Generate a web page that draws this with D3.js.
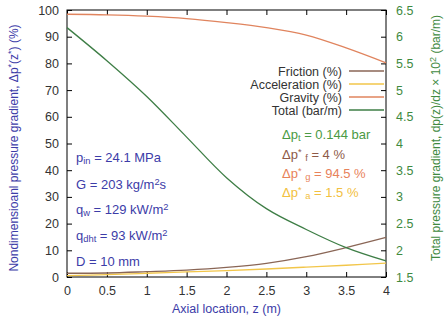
<!DOCTYPE html>
<html>
<head>
<meta charset="utf-8">
<script src="https://cdn.jsdelivr.net/npm/d3@7"></script>
<style>
  body { margin: 0; background: #fff; }
  svg { font-family: "Liberation Sans", Arial, sans-serif; }
</style>
</head>
<body>
<div id="chart"></div>
<script>
// axial positions (m)
const zVals = [0, 0.5, 1, 1.5, 2, 2.5, 3, 3.5, 4];
// nondimensional components (%)
const friction = [1.4, 1.5, 2.0, 2.6, 3.6, 5.1, 7.6, 11.0, 14.8];
const acceleration = [0.5, 0.9, 1.4, 1.9, 2.4, 3.0, 3.7, 4.4, 5.2];
const gravity = [98.4, 98.2, 97.7, 96.8, 95.3, 93.4, 90.6, 85.8, 80.2];
// total gradient (right axis)
const total = [6.17, 5.55, 4.88, 4.12, 3.36, 2.78, 2.39, 2.05, 1.80];

const xTicks = [0, 0.5, 1, 1.5, 2, 2.5, 3, 3.5, 4];
const leftTicks = [0, 10, 20, 30, 40, 50, 60, 70, 80, 90, 100];
const rightTicks = [1.5, 2, 2.5, 3, 3.5, 4, 4.5, 5, 5.5, 6, 6.5];

const W = 445, H = 323;
const m = { left: 67, right: 386, top: 10, bottom: 277 };

const blue = "#3c3ca8", green = "#3f8a3f", grey = "#333";
const cFric = "#8a6656", cAcc = "#f2c64a", cGrav = "#e0845e", cTot = "#3e7e46";

const svg = d3.select("#chart").append("svg")
  .attr("width", W).attr("height", H);

const x = d3.scaleLinear().domain([0, 4]).range([m.left, m.right]);
const yL = d3.scaleLinear().domain([0, 100]).range([m.bottom, m.top]);
const yR = d3.scaleLinear().domain([1.5, 6.5]).range([m.bottom, m.top]);

// axes (gnuplot-like: ticks pointing inward)
const tk = 5;
svg.append("g").attr("transform", "translate(0," + m.bottom + ")")
  .call(d3.axisBottom(x).tickValues(xTicks).tickSize(-tk).tickPadding(9)
    .tickFormat(d3.format("")))
  .call(g => g.select(".domain").remove())
  .selectAll("text").attr("font-size", 12.5).attr("fill", grey);
svg.append("g").attr("transform", "translate(0," + m.top + ")")
  .call(d3.axisTop(x).tickValues(xTicks).tickSize(-tk).tickFormat(""))
  .call(g => g.select(".domain").remove());
svg.append("g").attr("transform", "translate(" + m.left + ",0)")
  .call(d3.axisLeft(yL).tickValues(leftTicks).tickSize(-tk).tickPadding(8))
  .call(g => g.select(".domain").remove())
  .selectAll("text").attr("font-size", 12.5).attr("fill", grey);
svg.append("g").attr("transform", "translate(" + m.right + ",0)")
  .call(d3.axisRight(yR).tickValues(rightTicks).tickSize(-tk).tickPadding(10)
    .tickFormat(d3.format("")))
  .call(g => g.select(".domain").remove())
  .selectAll("text").attr("font-size", 12.5).attr("fill", green);
svg.selectAll(".tick line").attr("stroke", "#000");

svg.append("rect")
  .attr("x", m.left).attr("y", m.top)
  .attr("width", m.right - m.left).attr("height", m.bottom - m.top)
  .attr("fill", "none").attr("stroke", "#000").attr("stroke-width", 1);

// curves
const lineL = d3.line().x((d, i) => x(zVals[i])).y(d => yL(d)).curve(d3.curveCatmullRom.alpha(0.5));
const lineR = d3.line().x((d, i) => x(zVals[i])).y(d => yR(d)).curve(d3.curveCatmullRom.alpha(0.5));

const series = [
  { name: "Friction (%)", vals: friction, color: cFric, line: lineL },
  { name: "Acceleration (%)", vals: acceleration, color: cAcc, line: lineL },
  { name: "Gravity (%)", vals: gravity, color: cGrav, line: lineL },
  { name: "Total (bar/m)", vals: total, color: cTot, line: lineR }
];

series.forEach(s => {
  svg.append("path").attr("d", s.line(s.vals))
    .attr("fill", "none").attr("stroke", s.color).attr("stroke-width", 1.3);
});

// legend
const leg = svg.append("g");
series.forEach((s, i) => {
  const yy = 71 + i * 13;
  leg.append("text").attr("x", 342).attr("y", yy + 4.5)
    .attr("text-anchor", "end").attr("font-size", 12.5).attr("fill", grey)
    .text(s.name);
  leg.append("line").attr("x1", 349).attr("x2", 384)
    .attr("y1", yy).attr("y2", yy)
    .attr("stroke", s.color).attr("stroke-width", 1.3);
});

// helper for text with sub/superscripts: parts = [[text, mode]]
function rich(sel, xx, yy, parts, color, size) {
  const t = sel.append("text").attr("x", xx).attr("y", yy)
    .attr("font-size", size).attr("fill", color);
  parts.forEach(p => {
    const sp = t.append("tspan").text(p[0]);
    if (p[1] === "sub") sp.attr("font-size", size * 0.72).attr("baseline-shift", "-25%");
    else if (p[1] === "sup") sp.attr("font-size", size * 0.72).attr("baseline-shift", "40%");
  });
  return t;
}

// parameters block (left)
const fs = 13;
rich(svg, 76, 162, [["p"], ["in", "sub"], [" = 24.1 MPa"]], blue, fs);
rich(svg, 76, 189, [["G = 203 kg/m"], ["2", "sup"], ["s"]], blue, fs);
rich(svg, 76, 214, [["q"], ["w", "sub"], [" = 129 kW/m"], ["2", "sup"]], blue, fs);
rich(svg, 76, 240, [["q"], ["dht", "sub"], [" = 93 kW/m"], ["2", "sup"]], blue, fs);
rich(svg, 76, 266, [["D = 10 mm"]], blue, fs);

// integrated results (right)
rich(svg, 282, 139, [["\u0394p"], ["t", "sub"], [" = 0.144 bar"]], "#4a9a44", fs);
rich(svg, 282, 159, [["\u0394p"], ["*", "sup"], [" "], ["f", "sub"], [" = 4 %"]], "#8e5a48", fs);
rich(svg, 282, 178, [["\u0394p"], ["*", "sup"], [" "], ["g", "sub"], [" = 94.5 %"]], "#e8825a", fs);
rich(svg, 282, 197, [["\u0394p"], ["*", "sup"], [" "], ["a", "sub"], [" = 1.5 %"]], "#f2c040", fs);

// axis titles
svg.append("text").attr("x", (m.left + m.right) / 2).attr("y", 313)
  .attr("text-anchor", "middle").attr("font-size", 12.5).attr("fill", blue)
  .text("Axial location, z (m)");

const lt = svg.append("text")
  .attr("transform", "translate(18,148) rotate(-90)")
  .attr("text-anchor", "middle").attr("font-size", 12).attr("fill", blue);
lt.append("tspan").text("Nondimensioanl pressure gradient, \u0394p");
lt.append("tspan").text("*").attr("font-size", 9).attr("baseline-shift", "40%");
lt.append("tspan").text("(z");
lt.append("tspan").text("*").attr("font-size", 9).attr("baseline-shift", "40%");
lt.append("tspan").text(") (%)");

const rt = svg.append("text")
  .attr("transform", "translate(440,138) rotate(-90)")
  .attr("text-anchor", "middle").attr("font-size", 12).attr("fill", green);
rt.append("tspan").text("Total pressure gradient, dp(z)/dz \u00d7 10");
rt.append("tspan").text("2").attr("font-size", 9).attr("baseline-shift", "40%");
rt.append("tspan").text(" (bar/m)");
</script>
</body>
</html>
